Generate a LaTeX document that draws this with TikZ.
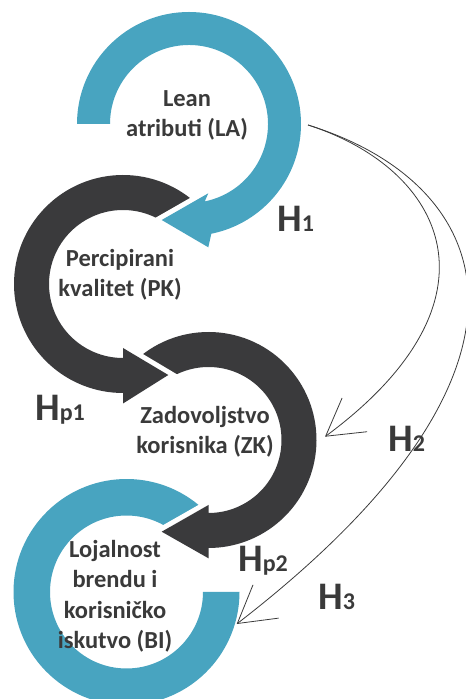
\documentclass[tikz,border=0pt]{standalone}
\usepackage{fontspec}
\setmainfont{Carlito}
\usetikzlibrary{arrows.meta,calc}
\definecolor{ringteal}{RGB}{72,164,192}
\definecolor{ringdark}{RGB}{58,58,60}
\definecolor{inkgray}{RGB}{58,58,58}
\tikzset{
  ring/.style={line join=round, preaction={draw=white, line width=10pt}},
  concept/.style={font={\bfseries\fontsize{24.5}{30.5}\selectfont}, text=inkgray, align=center, inner sep=0pt},
  hyp/.style={anchor=base west, inner sep=0pt, text=inkgray, font=\bfseries},
  link/.style={draw=inkgray, line width=0.8pt, -{Straight Barb[length=36pt,width=42pt]}}
}
\newcommand{\hyplabel}[1]{{\fontsize{39}{39}\selectfont H}{\fontsize{24}{24}\selectfont #1}}
\begin{document}
\begin{tikzpicture}[x=1pt,y=1pt]
\useasboundingbox (0,0) rectangle (466,699);
\clip (0,0) rectangle (466,699);
% ring centres
\coordinate (c1) at (189,575);
\coordinate (c2) at (123,415);
\coordinate (c3) at (208.5,259);
\coordinate (c4) at (126.5,107);

% ring 4: open teal ring, no head
\fill[ringteal, ring] ($(c4)+(47:113)$) arc[start angle=47, end angle=360, radius=113]
  -- ($(c4)+(0:76.5)$) arc[start angle=360, end angle=47, radius=76.5] -- cycle;

% ring 3: dark ring ending in a head pointing left
\fill[ringdark, ring] ($(c3)+(132:108)$) arc[start angle=132, end angle=-90, radius=108]
  -- (208.5,140.7) -- (161.7,167.3) -- (208.5,194)
  -- ($(c3)+(-90:73)$) arc[start angle=-90, end angle=132, radius=73] -- cycle;

% ring 2: dark ring ending in a head pointing right
\fill[ringdark, ring] ($(c2)+(48:109)$) arc[start angle=48, end angle=270, radius=109]
  -- (123,295.5) -- (168.3,324) -- (123,351)
  -- ($(c2)+(270:74)$) arc[start angle=270, end angle=48, radius=74] -- cycle;

% ring 1: teal ring ending in a head pointing left
\fill[ringteal, ring] ($(c1)+(180:112)$) arc[start angle=180, end angle=-78.5, radius=112]
  -- (208.3,451.7) -- (161.7,479) -- (208.3,505.7)
  -- ($(c1)+(-78.5:79)$) arc[start angle=-78.5, end angle=180, radius=79] -- cycle;

% concepts
\node[concept] (la) at (187,583.5) {Lean\\atributi (LA)};
\node[concept] (pk) at (120,424) {Percipirani\\kvalitet (PK)};
\node[concept] (zk) at (205,267) {Zadovoljstvo\\korisnika (ZK)};
\node[concept] (bi) at (115,102.5) {Lojalnost\\brendu i\\korisničko\\iskutvo (BI)};

% hypotheses
\node[hyp] (h1) at (277,467) {\hyplabel{1}};
\node[hyp] (hp1) at (35,278) {\hyplabel{p1}};
\node[hyp] (h2) at (388,247) {\hyplabel{2}};
\node[hyp] (hp2) at (238,127) {\hyplabel{p2}};
\node[hyp] (h3) at (318,89) {\hyplabel{3}};

% direct links from LA
\coordinate (la-out) at (308,574);
\coordinate (zk-in) at (325,262.3);
\coordinate (bi-in) at (236.7,75);
\draw[link] (la-out) .. controls (445,530) and (510,399) .. (zk-in);
\draw[link] (la-out) .. controls (495,516) and (572,334) .. (bi-in);
\end{tikzpicture}
\end{document}
